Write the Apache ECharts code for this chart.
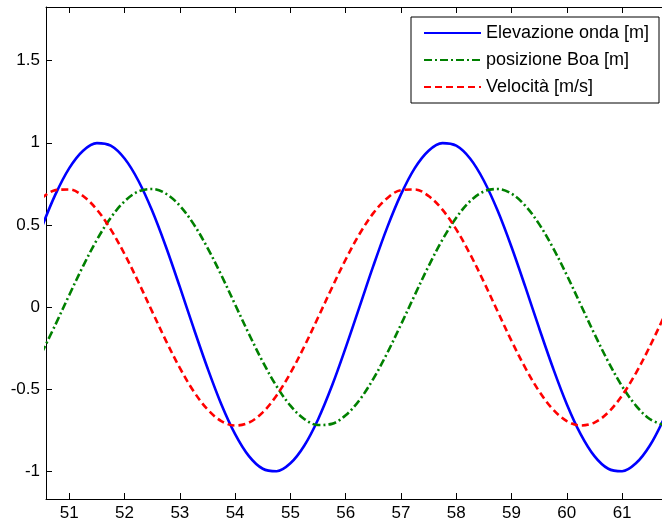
<!DOCTYPE html>
<html>
<head>
<meta charset="utf-8">
<script src="https://cdn.jsdelivr.net/npm/echarts@6/dist/echarts.min.js"></script>
<style>
html,body{margin:0;padding:0;background:#fff;}
#chart{width:662px;height:524px;}
</style>
</head>
<body>
<div id="chart"></div>
<script>
const seriesNames = ['Elevazione onda [m]', 'posizione Boa [m]', 'Velocità [m/s]'];
const xTicks = [51, 52, 53, 54, 55, 56, 57, 58, 59, 60, 61];
const yTicks = [-1, -0.5, 0, 0.5, 1, 1.5];
const xValues = [50.5, 50.75, 51, 51.25, 51.5, 51.75, 52, 52.25, 52.5, 52.75, 53, 53.25, 53.5, 53.75, 54, 54.25, 54.5, 54.75, 55, 55.25, 55.5, 55.75, 56, 56.25, 56.5, 56.75, 57, 57.25, 57.5, 57.75, 58, 58.25, 58.5, 58.75, 59, 59.25, 59.5, 59.75, 60, 60.25, 60.5, 60.75, 61, 61.25, 61.5, 61.75];
const elevazione = [0.484, 0.686, 0.846, 0.952, 0.998, 0.982, 0.904, 0.769, 0.586, 0.366, 0.123, -0.128, -0.370, -0.590, -0.772, -0.906, -0.983, -0.998, -0.950, -0.843, -0.683, -0.480, -0.246, 0.002, 0.251, 0.484, 0.686, 0.846, 0.952, 0.998, 0.982, 0.904, 0.769, 0.586, 0.366, 0.123, -0.128, -0.370, -0.590, -0.772, -0.906, -0.983, -0.998, -0.950, -0.843, -0.683];
const posizione = [-0.280, -0.106, 0.074, 0.250, 0.410, 0.544, 0.644, 0.704, 0.719, 0.690, 0.617, 0.505, 0.361, 0.195, 0.016, -0.163, -0.332, -0.481, -0.599, -0.680, -0.717, -0.710, -0.658, -0.565, -0.436, -0.280, -0.106, 0.074, 0.250, 0.410, 0.544, 0.644, 0.704, 0.719, 0.690, 0.617, 0.505, 0.361, 0.195, 0.016, -0.163, -0.332, -0.481, -0.599, -0.680, -0.717];
const velocita = [0.663, 0.712, 0.716, 0.676, 0.593, 0.473, 0.323, 0.153, -0.027, -0.205, -0.370, -0.512, -0.622, -0.693, -0.720, -0.702, -0.640, -0.537, -0.401, -0.240, -0.063, 0.117, 0.290, 0.445, 0.572, 0.663, 0.712, 0.716, 0.676, 0.593, 0.473, 0.323, 0.153, -0.027, -0.205, -0.370, -0.512, -0.622, -0.693, -0.720, -0.702, -0.640, -0.537, -0.401, -0.240, -0.063];

const X_MIN = 50.579, X_MAX = 61.722, Y_MIN = -1.167, Y_MAX = 1.826;
const FONT = '"Liberation Sans", Arial, sans-serif';
const pairs = arr => xValues.map((x, i) => [x, arr[i]]);

const chart = echarts.init(document.getElementById('chart'));
chart.setOption({
  animation: false,
  backgroundColor: '#fff',
  grid: { left: 46, top: 7, right: -1, bottom: 25, show: false },
  legend: {
    orient: 'vertical',
    left: 411, top: 17,
    padding: [7, 6, 7, 12],
    itemWidth: 57, itemHeight: 14, itemGap: 9,
    backgroundColor: '#fff', borderColor: '#000', borderWidth: 1, borderRadius: 0,
    itemStyle: { opacity: 0 },
    textStyle: { fontFamily: FONT, fontSize: 18, lineHeight: 18, color: '#000', width: 167 },
    data: seriesNames
  },
  xAxis: [{
    type: 'value', min: X_MIN, max: X_MAX, position: 'bottom',
    axisLine: { show: true, onZero: false, lineStyle: { color: '#000', width: 1 } },
    axisTick: { show: true, inside: true, length: 6, customValues: xTicks, lineStyle: { color: '#000' } },
    axisLabel: { show: true, customValues: xTicks, margin: 6, fontFamily: FONT, fontSize: 17, color: '#000' },
    splitLine: { show: false }
  }, {
    type: 'value', min: X_MIN, max: X_MAX, position: 'top',
    axisLine: { show: true, onZero: false, lineStyle: { color: '#000', width: 1 } },
    axisTick: { show: true, inside: true, length: 6, customValues: xTicks, lineStyle: { color: '#000' } },
    axisLabel: { show: false },
    splitLine: { show: false }
  }],
  yAxis: [{
    type: 'value', min: Y_MIN, max: Y_MAX,
    axisLine: { show: true, onZero: false, lineStyle: { color: '#000', width: 1 } },
    axisTick: { show: true, inside: true, length: 6, customValues: yTicks, lineStyle: { color: '#000' } },
    axisLabel: { show: true, customValues: yTicks, margin: 6, fontFamily: FONT, fontSize: 17, color: '#000' },
    splitLine: { show: false }
  }],
  series: [
    { name: seriesNames[0], type: 'line', xAxisIndex: 0, data: pairs(elevazione), smooth: 0.35, symbol: 'none', clip: true,
      lineStyle: { color: '#0000ff', width: 2.6, type: 'solid' }, itemStyle: { color: '#0000ff' } },
    { name: seriesNames[1], type: 'line', xAxisIndex: 0, data: pairs(posizione), smooth: 0.35, symbol: 'none', clip: true,
      lineStyle: { color: '#008000', width: 2.6, type: [8, 3, 2, 3] }, itemStyle: { color: '#008000' } },
    { name: seriesNames[2], type: 'line', xAxisIndex: 0, data: pairs(velocita), smooth: 0.35, symbol: 'none', clip: true,
      lineStyle: { color: '#ff0000', width: 2.6, type: [7, 4] }, itemStyle: { color: '#ff0000' } }
  ]
});
</script>
</body>
</html>
